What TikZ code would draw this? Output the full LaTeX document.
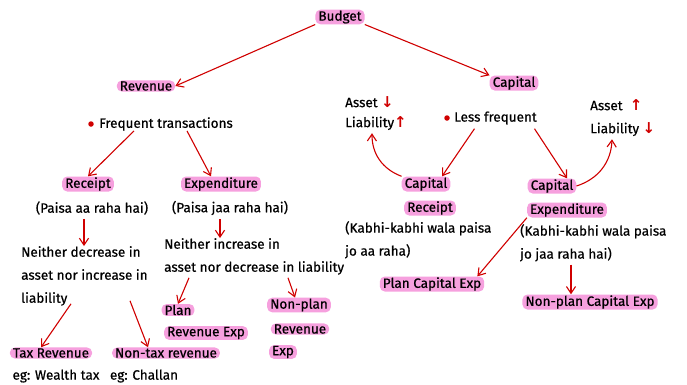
\documentclass[tikz,border=0pt]{standalone}
\usepackage{fontspec}
\setmainfont{Fira Sans}[FakeBold=0.6]
\newfontfamily\symfont{DejaVu Sans}
\usepackage{tikz}
\usetikzlibrary{positioning,arrows.meta}
\usepackage{xcolor}
\definecolor{arrred}{HTML}{D00000}
\definecolor{hlpink}{HTML}{F6A0DE}
\newcommand{\arrup}{{\color{arrred}\symfont\bfseries\fontsize{15}{15}\selectfont ↑}}
\newcommand{\arrdown}{{\color{arrred}\symfont\bfseries\fontsize{15}{15}\selectfont ↓}}

\begin{document}
\begin{tikzpicture}[x=1pt,y=-1pt,>={Straight Barb[length=2.4mm,width=3.2mm]},
  hl/.style={fill=hlpink,rounded corners=5pt,inner xsep=3pt,inner ysep=0.8pt,font=\fontsize{13.5}{15}\selectfont},
  txt/.style={inner sep=0pt,font=\fontsize{13.5}{23}\selectfont,align=left},
  arr/.style={->,arrred,line width=1.1pt},
  bullet/.style={circle,fill=arrred,inner sep=0pt,minimum size=5.5pt}]
\useasboundingbox[fill=white] (0,0) rectangle (687,384);
% top level
\node[hl] (budget) at (340,17) {Budget};
\node[hl] (revenue) at (146,86) {Revenue};
\node[hl] (capital) at (514,83) {Capital};
\draw[arr] (budget.south west) -- (revenue.east);
\draw[arr] (budget.south east) -- (capital.north west);
% revenue side
\node[bullet] (freqdot) at (91,124) {};
\node[txt,anchor=west] (freq) at (99,124) {Frequent transactions};
\node[hl] (receipt) at (88,184) {Receipt};
\node[hl] (expend) at (221,184) {Expenditure};
\draw[arr] ([xshift=-32pt]freq.south) -- (receipt.north);
\draw[arr] ([xshift=21pt]freq.south) -- ([xshift=-10pt]expend.north);
\node[txt] (paisaaa) at (92,208) {(Paisa aa raha hai)};
\node[txt] (paisajaa) at (230,208) {(Paisa jaa raha hai)};
\node[txt,anchor=north west] (recnote) at (21,246) {Neither decrease in\\asset nor increase in\\liability};
\node[txt,anchor=north west] (expnote) at (164,238) {Neither increase in\\asset nor decrease in liability};
\draw[arr] ([xshift=-8pt,yshift=-4pt]paisaaa.south) -- ([xshift=63pt]recnote.north west);
\draw[arr] ([xshift=-10pt,yshift=-4pt]paisajaa.south) -- ([xshift=56pt]expnote.north west);
\node[hl] (plan) at (178,310) {Plan};
\node[hl] (planrev) at (206,333) {Revenue Exp};
\node[hl] (nonplan) at (299,305) {Non-plan};
\node[hl] (nonplanrev) at (300,329) {Revenue};
\node[hl] (nonplanexp) at (283,352) {Exp};
\draw[arr] ([xshift=25pt,yshift=-3pt]expnote.south west) -- (plan.north);
\draw[arr] ([xshift=124pt,yshift=-3pt]expnote.south west) -- ([xshift=-4pt]nonplan.north);
\node[hl] (taxrev) at (51,353) {Tax Revenue};
\node[txt] (taxeg) at (56,376) {eg: Wealth tax};
\node[hl] (nontax) at (166,353) {Non-tax revenue};
\node[txt] (nontaxeg) at (144,376) {eg: Challan};
\draw[arr] ([xshift=50pt,yshift=2pt]recnote.south west) -- ([xshift=-10pt]taxrev.north);
\draw[arr] ([xshift=109pt,yshift=5pt]recnote.south west) -- ([xshift=-18pt]nontax.north);
% capital side
\node[txt,anchor=north west,font=\fontsize{13.5}{20}\selectfont] (assleft) at (345,96) {Asset \arrdown\\Liability\arrup};
\node[bullet] (lessdot) at (447,118) {};
\node[txt,anchor=west] (less) at (454,118) {Less frequent};
\node[txt,anchor=north west] (assright) at (590,99) {Asset \ \arrup\\Liability \arrdown};
\node[hl] (capreceipt) at (426,184) {Capital};
\node[hl] (capreceipt2) at (430,208) {Receipt};
\node[txt,anchor=north west] (capreceiptnote) at (345,221) {(Kabhi-kabhi wala paisa\\jo aa raha)};
\node[hl] (capexp) at (552,186) {Capital};
\node[hl] (capexp2) at (567,210) {Expenditure};
\node[txt,anchor=north west] (capexpnote) at (520,224) {(Kabhi-kabhi wala paisa\\jo jaa raha hai)};
\draw[arr] ([xshift=-21pt,yshift=-4pt]less.south) -- ([xshift=16pt]capreceipt.north);
\draw[arr] ([xshift=39pt,yshift=-4pt]less.south) -- ([xshift=15pt]capexp.north);
\draw[arr] (capreceipt.north west) to[bend left=35] ([xshift=27pt,yshift=-3pt]assleft.south west);
\draw[arr] (capexp.east) to[bend right=35] ([xshift=22pt,yshift=-3pt]assright.south west);
\node[hl] (plancap) at (432,284) {Plan Capital Exp};
\node[hl] (nonplancap) at (590,302) {Non-plan Capital Exp};
\draw[arr] (capexp2.south west) -- ([xshift=-7pt]plancap.north east);
\draw[arr] ([xshift=51pt,yshift=-3pt]capexpnote.south west) -- ([xshift=-19pt]nonplancap.north);
\end{tikzpicture}
\end{document}
